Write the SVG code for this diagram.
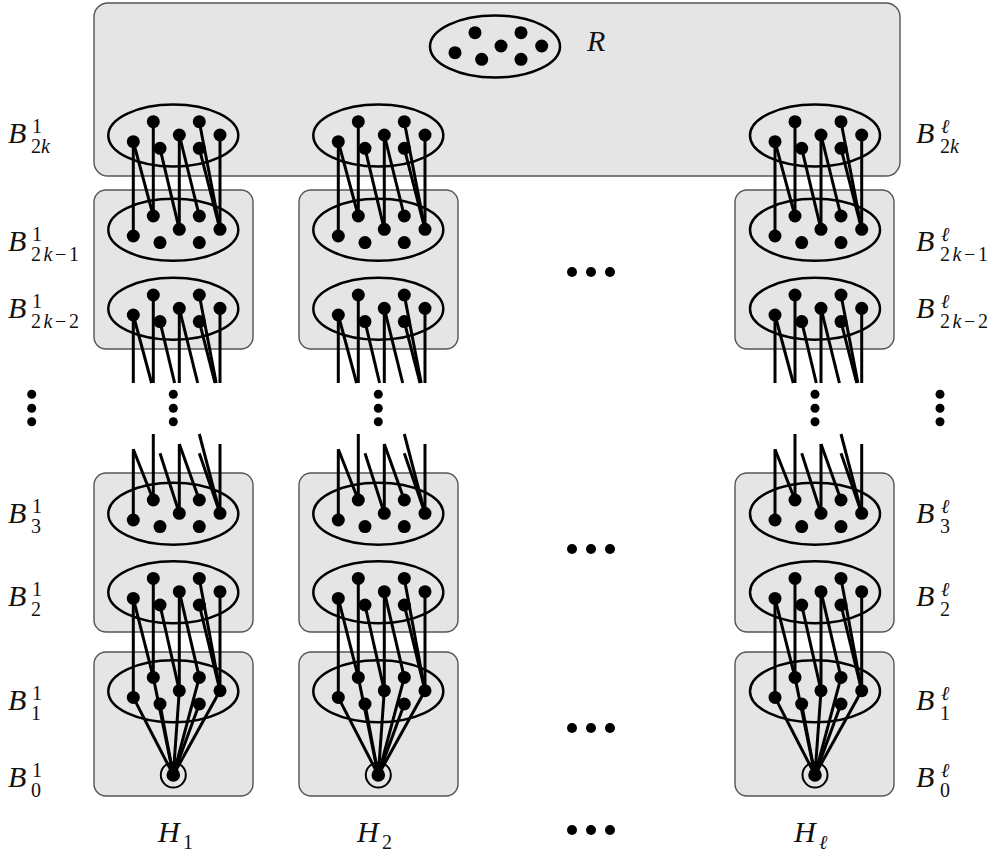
<svg xmlns="http://www.w3.org/2000/svg" xmlns:xlink="http://www.w3.org/1999/xlink" width="995" height="852" viewBox="0 0 995 852">
<style>
.box{fill:#e5e5e5;stroke:#555;stroke-width:1.4}
.lbl{font-family:"Liberation Serif","Times New Roman",serif;font-style:italic;font-size:30px;fill:#111}
.sup{font-family:"Liberation Serif","Times New Roman",serif;font-size:20px;fill:#111}
.i{font-style:italic}
</style>
<defs>
<g id="cl">
<ellipse cx="0" cy="0.5" rx="65" ry="31" fill="none" stroke="#000" stroke-width="2.5"/>
<g fill="#000">
<circle cx="-40" cy="6.7" r="6.5"/>
<circle cx="-20" cy="-13.3" r="6.5"/>
<circle cx="-13.3" cy="13.3" r="6.5"/>
<circle cx="6" cy="0" r="6.5"/>
<circle cx="26" cy="-13.3" r="6.5"/>
<circle cx="26" cy="13.3" r="6.5"/>
<circle cx="46.7" cy="0" r="6.5"/>
</g>
</g>
<g id="root">
<circle cx="0" cy="0" r="12.5" fill="none" stroke="#000" stroke-width="2"/>
<circle cx="0" cy="0" r="6.8" fill="#000"/>
</g>
<g id="colcon" stroke="#000" stroke-width="3" fill="none">
<line x1="-40" y1="141.7" x2="-40" y2="236"/>
<line x1="-40" y1="141.7" x2="-20" y2="216"/>
<line x1="-20" y1="121.7" x2="-20" y2="216"/>
<line x1="-13.3" y1="148.3" x2="6" y2="229.3"/>
<line x1="6" y1="135" x2="6" y2="229.3"/>
<line x1="6" y1="135" x2="26" y2="216"/>
<line x1="26" y1="121.7" x2="46.7" y2="229.3"/>
<line x1="26" y1="148.3" x2="46.7" y2="229.3"/>
<line x1="46.7" y1="135" x2="46.7" y2="229.3"/>
<line x1="-40" y1="315" x2="-40" y2="383"/>
<line x1="-40" y1="315" x2="-21.7" y2="383"/>
<line x1="-20" y1="295" x2="-20" y2="383"/>
<line x1="-13.3" y1="321.6" x2="1.3" y2="383"/>
<line x1="6" y1="308.3" x2="6" y2="383"/>
<line x1="6" y1="308.3" x2="24.4" y2="383"/>
<line x1="26" y1="295" x2="42.9" y2="383"/>
<line x1="26" y1="321.6" x2="41.7" y2="383"/>
<line x1="46.7" y1="308.3" x2="46.7" y2="383"/>
<line x1="-40" y1="449.3" x2="-40" y2="520"/>
<line x1="-40" y1="449.3" x2="-20" y2="500"/>
<line x1="-20" y1="434" x2="-20" y2="500"/>
<line x1="-13.3" y1="453.3" x2="6" y2="513.3"/>
<line x1="6" y1="444" x2="6" y2="513.3"/>
<line x1="6" y1="444" x2="26" y2="500"/>
<line x1="26" y1="434" x2="46.7" y2="513.3"/>
<line x1="26" y1="453.3" x2="46.7" y2="513.3"/>
<line x1="46.7" y1="444" x2="46.7" y2="513.3"/>
<line x1="-40" y1="598.4" x2="-40" y2="697.4"/>
<line x1="-40" y1="598.4" x2="-20" y2="677.4"/>
<line x1="-20" y1="578.4" x2="-20" y2="677.4"/>
<line x1="-13.3" y1="605" x2="6" y2="690.7"/>
<line x1="6" y1="591.7" x2="6" y2="690.7"/>
<line x1="6" y1="591.7" x2="26" y2="677.4"/>
<line x1="26" y1="578.4" x2="46.7" y2="690.7"/>
<line x1="26" y1="605" x2="46.7" y2="690.7"/>
<line x1="46.7" y1="591.7" x2="46.7" y2="690.7"/>
<line x1="-40" y1="697.4" x2="0" y2="775"/>
<line x1="-20" y1="677.4" x2="0" y2="775"/>
<line x1="-13.3" y1="704" x2="0" y2="775"/>
<line x1="6" y1="690.7" x2="0" y2="775"/>
<line x1="26" y1="677.4" x2="0" y2="775"/>
<line x1="26" y1="704" x2="0" y2="775"/>
<line x1="46.7" y1="690.7" x2="0" y2="775"/>
</g>
<g id="vd" fill="#000">
<circle cx="0" cy="394.3" r="4.5"/>
<circle cx="0" cy="408.3" r="4.5"/>
<circle cx="0" cy="421.7" r="4.5"/>
</g>
<g id="hd" fill="#000">
<circle cx="-19" cy="0" r="5"/>
<circle cx="0" cy="0" r="5"/>
<circle cx="19" cy="0" r="5"/>
</g>
</defs>

<g id="box-R"><rect class="box" x="94" y="3" width="806" height="173" rx="14"/></g>
<g id="box-1a"><rect class="box" x="94" y="190" width="159" height="159" rx="12"/></g>
<g id="box-1b"><rect class="box" x="94" y="473" width="159" height="159" rx="12"/></g>
<g id="box-1c"><rect class="box" x="94" y="652" width="159" height="144" rx="12"/></g>
<g id="box-2a"><rect class="box" x="299" y="190" width="159" height="159" rx="12"/></g>
<g id="box-2b"><rect class="box" x="299" y="473" width="159" height="159" rx="12"/></g>
<g id="box-2c"><rect class="box" x="299" y="652" width="159" height="144" rx="12"/></g>
<g id="box-la"><rect class="box" x="735" y="190" width="159" height="159" rx="12"/></g>
<g id="box-lb"><rect class="box" x="735" y="473" width="159" height="159" rx="12"/></g>
<g id="box-lc"><rect class="box" x="735" y="652" width="159" height="144" rx="12"/></g>

<g id="connectors">
<use href="#colcon" x="173.3" y="0"/>
<use href="#colcon" x="378.3" y="0"/>
<use href="#colcon" x="815" y="0"/>
</g>

<g id="R"><use href="#cl" x="495" y="46"/></g>

<g id="H1-B2k"><use href="#cl" x="173.3" y="135"/></g>
<g id="H1-B2k-1"><use href="#cl" x="173.3" y="229.3"/></g>
<g id="H1-B2k-2"><use href="#cl" x="173.3" y="308.3"/></g>
<g id="H1-B3"><use href="#cl" x="173.3" y="513.3"/></g>
<g id="H1-B2"><use href="#cl" x="173.3" y="591.7"/></g>
<g id="H1-B1"><use href="#cl" x="173.3" y="690.7"/></g>
<g id="H1-B0"><use href="#root" x="173.3" y="775"/></g>
<g id="H2-B2k"><use href="#cl" x="378.3" y="135"/></g>
<g id="H2-B2k-1"><use href="#cl" x="378.3" y="229.3"/></g>
<g id="H2-B2k-2"><use href="#cl" x="378.3" y="308.3"/></g>
<g id="H2-B3"><use href="#cl" x="378.3" y="513.3"/></g>
<g id="H2-B2"><use href="#cl" x="378.3" y="591.7"/></g>
<g id="H2-B1"><use href="#cl" x="378.3" y="690.7"/></g>
<g id="H2-B0"><use href="#root" x="378.3" y="775"/></g>
<g id="Hl-B2k"><use href="#cl" x="815" y="135"/></g>
<g id="Hl-B2k-1"><use href="#cl" x="815" y="229.3"/></g>
<g id="Hl-B2k-2"><use href="#cl" x="815" y="308.3"/></g>
<g id="Hl-B3"><use href="#cl" x="815" y="513.3"/></g>
<g id="Hl-B2"><use href="#cl" x="815" y="591.7"/></g>
<g id="Hl-B1"><use href="#cl" x="815" y="690.7"/></g>
<g id="Hl-B0"><use href="#root" x="815" y="775"/></g>

<g id="vdots">
<use href="#vd" x="31.7" y="0"/>
<use href="#vd" x="173.3" y="0"/>
<use href="#vd" x="378.3" y="0"/>
<use href="#vd" x="815" y="0"/>
<use href="#vd" x="940" y="0"/>
</g>
<g id="hdots">
<use href="#hd" x="591" y="272"/>
<use href="#hd" x="591" y="549"/>
<use href="#hd" x="591" y="728"/>
<use href="#hd" x="591" y="830"/>
</g>

<g id="labels">
<text class="lbl" x="587" y="51">R</text>

<text class="lbl" x="8" y="143">B</text><text class="sup" x="32" y="133">1</text><text class="sup" x="31" y="153">2<tspan class="i">k</tspan></text>
<text class="lbl" x="8" y="251">B</text><text class="sup" x="32" y="241">1</text><text class="sup" x="31" y="261" textLength="48" lengthAdjust="spacing">2<tspan class="i">k</tspan>−1</text>
<text class="lbl" x="8" y="318">B</text><text class="sup" x="32" y="308">1</text><text class="sup" x="31" y="328" textLength="48" lengthAdjust="spacing">2<tspan class="i">k</tspan>−2</text>
<text class="lbl" x="8" y="523">B</text><text class="sup" x="32" y="513">1</text><text class="sup" x="31" y="533">3</text>
<text class="lbl" x="8" y="606">B</text><text class="sup" x="32" y="596">1</text><text class="sup" x="31" y="616">2</text>
<text class="lbl" x="8" y="710">B</text><text class="sup" x="32" y="700">1</text><text class="sup" x="31" y="720">1</text>
<text class="lbl" x="8" y="787">B</text><text class="sup" x="32" y="777">1</text><text class="sup" x="31" y="797">0</text>

<text class="lbl" x="916" y="143">B</text><text class="sup i" x="941" y="133">ℓ</text><text class="sup" x="940" y="153">2<tspan class="i">k</tspan></text>
<text class="lbl" x="916" y="251">B</text><text class="sup i" x="941" y="241">ℓ</text><text class="sup" x="940" y="261" textLength="48" lengthAdjust="spacing">2<tspan class="i">k</tspan>−1</text>
<text class="lbl" x="916" y="318">B</text><text class="sup i" x="941" y="308">ℓ</text><text class="sup" x="940" y="328" textLength="48" lengthAdjust="spacing">2<tspan class="i">k</tspan>−2</text>
<text class="lbl" x="916" y="523">B</text><text class="sup i" x="941" y="513">ℓ</text><text class="sup" x="940" y="533">3</text>
<text class="lbl" x="916" y="606">B</text><text class="sup i" x="941" y="596">ℓ</text><text class="sup" x="940" y="616">2</text>
<text class="lbl" x="916" y="710">B</text><text class="sup i" x="941" y="700">ℓ</text><text class="sup" x="940" y="720">1</text>
<text class="lbl" x="916" y="787">B</text><text class="sup i" x="941" y="777">ℓ</text><text class="sup" x="940" y="797">0</text>

<text class="lbl" x="158" y="842">H</text><text class="sup" x="183" y="849">1</text>
<text class="lbl" x="357" y="842">H</text><text class="sup" x="382" y="849">2</text>
<text class="lbl" x="794" y="842">H</text><text class="sup i" x="819" y="849">ℓ</text>
</g>
</svg>
